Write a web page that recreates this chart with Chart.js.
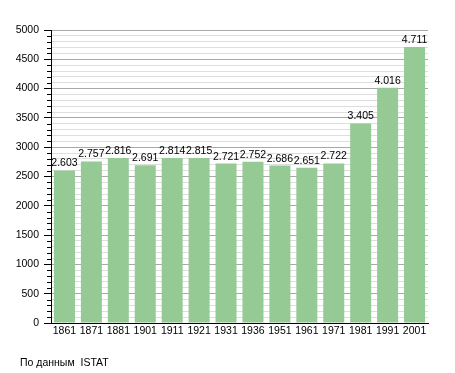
<!DOCTYPE html>
<html>
<head>
<meta charset="utf-8">
<script src="https://cdn.jsdelivr.net/npm/chart.js@4/dist/chart.umd.min.js"></script>
<style>
    html, body { margin: 0; padding: 0; background: #fff; }
    #wrap { position: relative; width: 455px; height: 373px; }
    #source { position: absolute; left: 20px; top: 356px; font: 10.5px "Liberation Sans", Arial, sans-serif; color: #000; }
</style>
</head>
<body>
<div id="wrap">
    <canvas id="popChart" width="455" height="373"></canvas>
    <div id="source">По данным&nbsp; ISTAT</div>
</div>
<script>
// Population by census year
const years = ['1861', '1871', '1881', '1901', '1911', '1921', '1931', '1936', '1951', '1961', '1971', '1981', '1991', '2001'];
const population = [2603, 2757, 2816, 2691, 2814, 2815, 2721, 2752, 2686, 2651, 2722, 3405, 4016, 4711];
const yTicks = [0, 500, 1000, 1500, 2000, 2500, 3000, 3500, 4000, 4500, 5000];

const barColor = '#95ca95';

// 2603 -> "2.603"
const fmt = (n) => String(n).replace(/\B(?=(\d{3})+(?!\d))/g, '.');

// value labels above the bars + short minor ticks on the y axis
const extras = {
    id: 'extras',
    afterDatasetsDraw(chart) {
        const ctx = chart.ctx;
        const meta = chart.getDatasetMeta(0);
        ctx.save();
        ctx.font = '10.5px "Liberation Sans", Arial, sans-serif';
        ctx.fillStyle = '#000';
        ctx.textAlign = 'center';
        ctx.textBaseline = 'alphabetic';
        meta.data.forEach((bar, i) => {
            ctx.fillText(fmt(population[i]), bar.x, bar.y - 4);
        });
        ctx.restore();
    },
    afterDraw(chart) {
        const ctx = chart.ctx;
        const y = chart.scales.y;
        const ax = chart.chartArea.left;
        ctx.save();
        ctx.strokeStyle = '#000';
        ctx.lineWidth = 1;
        ctx.beginPath();
        for (let v = 100; v < 5000; v += 100) {
            if (v % 500 === 0) continue;
            const py = Math.round(y.getPixelForValue(v)) + 0.5;
            ctx.moveTo(ax - 4, py);
            ctx.lineTo(ax, py);
        }
        ctx.stroke();
        ctx.restore();
    }
};

Chart.defaults.font.family = '"Liberation Sans", Arial, sans-serif';
Chart.defaults.font.size = 10.5;
Chart.defaults.color = '#000';

const ctx = document.getElementById('popChart').getContext('2d');
new Chart(ctx, {
    type: 'bar',
    data: {
        labels: years,
        datasets: [{
            data: population,
            backgroundColor: barColor,
            borderWidth: 0,
            barPercentage: 0.78,
            categoryPercentage: 1
        }]
    },
    options: {
        responsive: false,
        animation: false,
        layout: { padding: { left: 0, right: 27, top: 30, bottom: 0 } },
        plugins: {
            legend: { display: false },
            tooltip: { enabled: false }
        },
        scales: {
            x: {
                grid: { display: false, drawTicks: false, tickLength: 0 },
                border: { display: true, color: '#000', width: 1 },
                ticks: { padding: 2, maxRotation: 0, autoSkip: false },
                afterFit: (s) => { s.height = 50; }
            },
            y: {
                min: 0,
                max: 5000,
                afterBuildTicks: (s) => {
                    const t = [];
                    for (let v = 0; v <= 5000; v += 100) t.push({ value: v });
                    s.ticks = t;
                },
                ticks: {
                    padding: 5,
                    autoSkip: false,
                    callback: (v) => (yTicks.includes(v) ? String(v) : '')
                },
                grid: {
                    color: (c) => (c.tick && c.tick.value % 500 === 0 ? '#a8a8a8' : '#dedede'),
                    tickColor: (c) => (c.tick && c.tick.value % 500 === 0 ? '#000' : 'rgba(0,0,0,0)'),
                    tickLength: 7
                },
                border: { display: true, color: '#000', width: 1 },
                afterFit: (s) => { s.width = 51; }
            }
        }
    },
    plugins: [extras]
});
</script>
</body>
</html>
